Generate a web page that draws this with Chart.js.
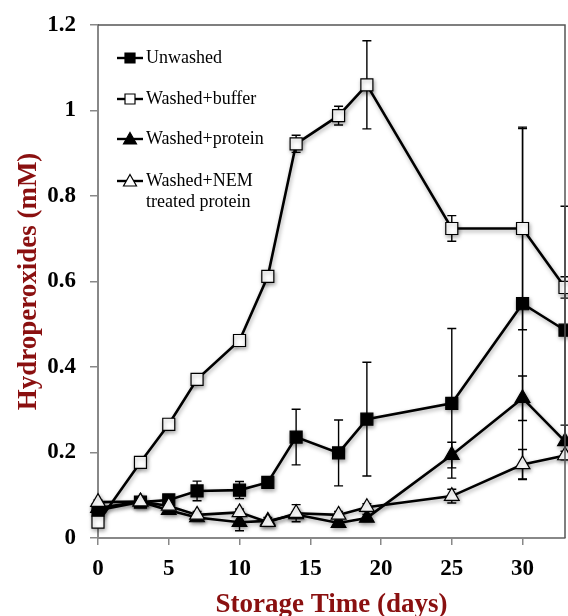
<!DOCTYPE html>
<html>
<head>
<meta charset="utf-8">
<script src="https://cdn.jsdelivr.net/npm/chart.js@4.4.1/dist/chart.umd.min.js"></script>
<style>
html,body{margin:0;padding:0;background:#fff;}
#wrap{width:568px;height:616px;position:relative;}
</style>
</head>
<body>
<div id="wrap"><canvas id="c" width="568" height="616"></canvas></div>
<script>
const DAYS = [0, 3, 5, 7, 10, 12, 14, 17, 19, 25, 30, 33];
const X_TICKS = [0, 5, 10, 15, 20, 25, 30];
const Y_TICKS = [0, 0.2, 0.4, 0.6, 0.8, 1.0, 1.2];
const Y_TICK_LABELS = ['0', '0.2', '0.4', '0.6', '0.8', '1', '1.2'];

const UNWASHED     = [0.065, 0.084, 0.089, 0.110, 0.112, 0.130, 0.236, 0.199, 0.278, 0.315, 0.548, 0.486];
const UNWASHED_ERR = [0.005, 0.008, 0.010, 0.023, 0.020, 0.010, 0.065, 0.077, 0.133, 0.175, 0.410, 0.290];
const BUFFER       = [0.037, 0.177, 0.266, 0.371, 0.462, 0.612, 0.922, 0.988, 1.060, 0.724, 0.724, 0.586];
const BUFFER_ERR   = [0.005, 0.008, 0.008, 0.008, 0.008, 0.008, 0.020, 0.022, 0.103, 0.030, 0.237, 0.025];
const PROTEIN      = [0.070, 0.085, 0.065, 0.048, 0.037, 0.040, 0.055, 0.035, 0.047, 0.194, 0.327, 0.226];
const PROTEIN_ERR  = [0.005, 0.005, 0.008, 0.005, 0.020, 0.008, 0.006, 0.006, 0.008, 0.030, 0.052, 0.038];
const NEM          = [0.084, 0.085, 0.075, 0.054, 0.060, 0.037, 0.058, 0.054, 0.072, 0.098, 0.172, 0.193];
const NEM_ERR      = [0.005, 0.005, 0.006, 0.008, 0.008, 0.006, 0.020, 0.008, 0.008, 0.016, 0.035, 0.010];

const LABELS = ['Unwashed', 'Washed+buffer', 'Washed+protein', 'Washed+NEM\ntreated protein'];

const SERIF = "'Liberation Serif','Times New Roman',serif";
const TITLE_RED = '#8a1010';

function pts(vals) { return DAYS.map((d, i) => ({x: d, y: vals[i]})); }

const seriesDefs = [
  {label: LABELS[0], vals: UNWASHED, err: UNWASHED_ERR, style: 'rect', fill: '#000', r: 8.5, order: 3},
  {label: LABELS[1], vals: BUFFER, err: BUFFER_ERR, style: 'rect', fill: '#fff', r: 8.5, order: 2},
  {label: LABELS[2], vals: PROTEIN, err: PROTEIN_ERR, style: 'triangle', fill: '#000', r: 8.5, order: 1},
  {label: LABELS[3], vals: NEM, err: NEM_ERR, style: 'triangle', fill: '#fff', r: 8.5, order: 0}
];

const datasets = seriesDefs.map(s => ({
  label: s.label,
  data: pts(s.vals),
  errors: s.err,
  borderColor: '#000',
  borderWidth: 2.6,
  pointStyle: s.style,
  pointRadius: s.r,
  pointHoverRadius: s.r,
  pointBackgroundColor: s.fill,
  pointBorderColor: '#000',
  pointBorderWidth: 1.2,
  fill: false,
  tension: 0,
  clip: false,
  order: s.order
}));

const errorAndShadow = {
  id: 'errorAndShadow',
  beforeDatasetsDraw(chart) {
    const ctx = chart.ctx;
    const xs = chart.scales.x, ys = chart.scales.y;
    ctx.save();
    ctx.strokeStyle = '#000';
    ctx.lineWidth = 1.4;
    chart.data.datasets.forEach(ds => {
      ds.data.forEach((p, i) => {
        const e = ds.errors[i];
        if (!e) return;
        const px = xs.getPixelForValue(p.x);
        const yt = ys.getPixelForValue(p.y + e);
        const yb = ys.getPixelForValue(p.y - e);
        ctx.beginPath();
        ctx.moveTo(px, yt); ctx.lineTo(px, yb);
        ctx.moveTo(px - 4.5, yt); ctx.lineTo(px + 4.5, yt);
        ctx.moveTo(px - 4.5, yb); ctx.lineTo(px + 4.5, yb);
        ctx.stroke();
      });
    });
    ctx.restore();
    ctx.save();
    ctx.shadowColor = 'rgba(0,0,0,0.35)';
    ctx.shadowBlur = 4;
    ctx.shadowOffsetX = 1;
    ctx.shadowOffsetY = 2;
  },
  afterDatasetsDraw(chart) {
    chart.ctx.restore();
  }
};

const frameAndLegend = {
  id: 'frameAndLegend',
  afterDraw(chart) {
    const ctx = chart.ctx;
    const a = chart.chartArea;
    ctx.save();
    ctx.strokeStyle = '#555';
    ctx.lineWidth = 1.5;
    ctx.beginPath();
    ctx.moveTo(a.left, a.top);
    ctx.lineTo(a.right, a.top);
    ctx.lineTo(a.right, a.bottom);
    ctx.stroke();
    ctx.restore();

    const lx0 = 117, lx1 = 143, mx = 130, tx = 146;
    const rows = [58, 99, 139, 181];
    ctx.save();
    ctx.font = '18px ' + SERIF;
    ctx.fillStyle = '#000';
    ctx.textBaseline = 'middle';
    ctx.textAlign = 'left';
    seriesDefs.forEach((s, i) => {
      const y = rows[i];
      ctx.strokeStyle = '#000';
      ctx.lineWidth = 2.4;
      ctx.beginPath();
      ctx.moveTo(lx0, y); ctx.lineTo(lx1, y); ctx.stroke();
      ctx.lineWidth = 1.2;
      ctx.fillStyle = s.fill;
      ctx.beginPath();
      if (s.style === 'rect') {
        ctx.rect(mx - 5, y - 5, 10, 10);
      } else {
        ctx.moveTo(mx, y - 6.5);
        ctx.lineTo(mx + 6.5, y + 5);
        ctx.lineTo(mx - 6.5, y + 5);
        ctx.closePath();
      }
      ctx.fill(); ctx.stroke();
      ctx.fillStyle = '#000';
      const lines = s.label.split('\n');
      lines.forEach((ln, k) => ctx.fillText(ln, tx, y + k * 21));
    });
    ctx.restore();
  }
};

new Chart(document.getElementById('c'), {
  type: 'line',
  data: {datasets},
  options: {
    responsive: false,
    animation: false,
    events: [],
    layout: {autoPadding: false, padding: {left: 0, right: 3, top: 25, bottom: 0}},
    plugins: {legend: {display: false}, tooltip: {enabled: false}},
    scales: {
      x: {
        type: 'linear',
        min: 0, max: 33,
        afterBuildTicks(scale) { scale.ticks = X_TICKS.map(v => ({value: v})); },
        afterFit(scale) { scale.height = 78; scale.paddingRight = 0; scale.paddingLeft = 0; },
        grid: {drawOnChartArea: false, drawTicks: true, tickLength: 7, color: '#888', lineWidth: 1.5},
        border: {display: true, color: '#888', width: 2},
        ticks: {
          font: {family: SERIF, size: 23, weight: 'bold'},
          color: '#000',
          padding: 10,
          maxRotation: 0
        },
        title: {
          display: true,
          text: 'Storage Time (days)',
          color: TITLE_RED,
          font: {family: SERIF, size: 27, weight: 'bold', lineHeight: 1.0},
          padding: {top: 0, bottom: -3}
        }
      },
      y: {
        type: 'linear',
        min: 0, max: 1.2,
        afterBuildTicks(scale) { scale.ticks = Y_TICKS.map(v => ({value: v})); },
        afterFit(scale) { scale.width = 98; scale.paddingTop = 0; scale.paddingBottom = 0; },
        grid: {drawOnChartArea: false, drawTicks: true, tickLength: 8, color: '#888', lineWidth: 1.5},
        border: {display: true, color: '#888', width: 2},
        ticks: {
          font: {family: SERIF, size: 23, weight: 'bold'},
          color: '#000',
          padding: 14,
          callback(v, i) { return Y_TICK_LABELS[i]; }
        },
        title: {
          display: true,
          text: 'Hydroperoxides (mM)',
          color: TITLE_RED,
          font: {family: SERIF, size: 27, weight: 'bold'},
          padding: {top: 13, bottom: 0}
        }
      }
    }
  },
  plugins: [errorAndShadow, frameAndLegend]
});
</script>
</body>
</html>
